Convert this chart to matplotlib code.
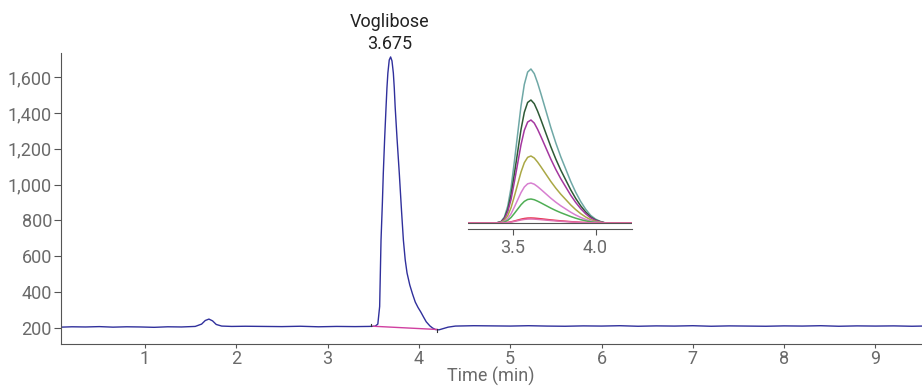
import matplotlib.pyplot as plt
from matplotlib.ticker import FuncFormatter

plt.rcParams['font.family'] = ['Roboto', 'DejaVu Sans']

# main chromatogram (time in min, response)
time = [0.08, 0.2, 0.35, 0.5, 0.65, 0.8, 0.95, 1.1, 1.25, 1.4, 1.55, 1.62, 1.66, 1.70,
        1.74, 1.78, 1.84, 1.95, 2.1, 2.3, 2.5, 2.7, 2.9, 3.1, 3.3, 3.45, 3.52,
        3.55, 3.57, 3.585, 3.60, 3.61, 3.625, 3.64, 3.65, 3.66, 3.675, 3.69,
        3.705, 3.72, 3.73, 3.74, 3.76, 3.785, 3.81, 3.83, 3.85, 3.87, 3.90,
        3.93, 3.96, 3.99, 4.02, 4.05, 4.08, 4.12, 4.15, 4.18, 4.22, 4.26, 4.32,
        4.4, 4.6, 4.8, 5.0, 5.2, 5.4, 5.6, 5.8, 6.0, 6.2, 6.4, 6.6, 6.8, 7.0,
        7.2, 7.4, 7.6, 7.8, 8.0, 8.2, 8.4, 8.6, 8.8, 9.0, 9.2, 9.4, 9.51]
signal = [205, 207, 206, 208, 205, 207, 206, 204, 207, 206, 209, 222, 242, 250,
          240, 220, 211, 209, 210, 209, 208, 210, 207, 209, 208, 209, 210,
          222, 320, 690, 900, 1064, 1260, 1432, 1540, 1622, 1695, 1712,
          1690, 1622, 1540, 1432, 1260, 1064, 850, 690, 580, 507, 440,
          390, 345, 315, 290, 262, 235, 212, 200, 192, 190, 196, 205,
          211, 213, 212, 211, 213, 211, 210, 212, 211, 213, 210, 212, 211, 213,
          210, 212, 211, 210, 212, 211, 213, 210, 212, 211, 212, 210, 211]

# integration baseline of the peak
base_t = [3.50, 4.20]
base_y = [210, 192]

# overlay of calibration levels (inset), normalized peak profile
inset_t = [3.23, 3.40, 3.43, 3.45, 3.47, 3.49, 3.51, 3.53, 3.55, 3.57, 3.59,
           3.61, 3.63, 3.65, 3.67, 3.70, 3.73, 3.76, 3.79, 3.82, 3.85, 3.88,
           3.91, 3.94, 3.97, 4.00, 4.03, 4.06, 4.22]
profile = [0, 0, 0.01, 0.04, 0.11, 0.23, 0.40, 0.58, 0.76, 0.90, 0.98,
           1.0, 0.97, 0.91, 0.84, 0.73, 0.62, 0.52, 0.43, 0.35, 0.27, 0.20,
           0.14, 0.09, 0.05, 0.025, 0.01, 0.0, 0]
heights = [154, 123, 103, 67, 40, 24, 5, 4]
colors = ['#6fa8a6', '#2e5a36', '#a4379f', '#aaa845', '#d77fd0', '#4fae55',
          '#e8304a', '#e070b0']

fig = plt.figure(figsize=(9.22, 3.87), dpi=100)
ax = fig.add_axes([61 / 922, 43 / 387, 861 / 922, 291 / 387])

ax.plot(time, signal, color='#30309c', lw=1.0)
ax.plot(base_t, base_y, color='#d040a0', lw=1.0)
ax.plot([3.48, 3.48], [210, 225], color='#333333', lw=0.8)
ax.plot([4.2, 4.2], [192, 177], color='#333333', lw=0.8)

ax.set_xlim(0.08, 9.51)
ax.set_ylim(111, 1734)
ax.set_xticks(range(1, 10))
ax.set_yticks(range(200, 1601, 200))
ax.yaxis.set_major_formatter(FuncFormatter(lambda v, p: f"{int(v):,}"))
for s in ['top', 'right']:
    ax.spines[s].set_visible(False)
for s in ['left', 'bottom']:
    ax.spines[s].set_color('#555555')
ax.tick_params(colors='#555555', labelcolor='#6a6a6a', labelsize=13)
ax.tick_params(axis='x', length=3, pad=1.5)
ax.tick_params(axis='y', length=5, pad=1.5)
fig.text(491 / 922, 10.5 / 387, 'Time (min)', ha='center', va='center',
         color='#6a6a6a', fontsize=13)
ax.text(3.675, 1735, 'Voglibose\n3.675', ha='center', va='bottom',
        fontsize=13, color='#222222', linespacing=1.25)

ins = fig.add_axes([468 / 922, 158 / 387, 164 / 922, 169 / 387])
for h, c in zip(heights, colors):
    ins.plot(inset_t, [p * h for p in profile], color=c, lw=1.1)
ins.plot([3.23, 4.22], [0, 0], color='#555555', lw=0.8)
ins.set_xlim(3.23, 4.22)
ins.set_ylim(-6, 163)
ins.set_xticks([3.5, 4.0])
ins.set_yticks([])
ins.patch.set_alpha(0)
for s in ['top', 'right', 'left']:
    ins.spines[s].set_visible(False)
ins.spines['bottom'].set_color('#555555')
ins.tick_params(colors='#555555', labelcolor='#6a6a6a', labelsize=13, length=4, pad=3)

fig.savefig('out.png', dpi=100)
